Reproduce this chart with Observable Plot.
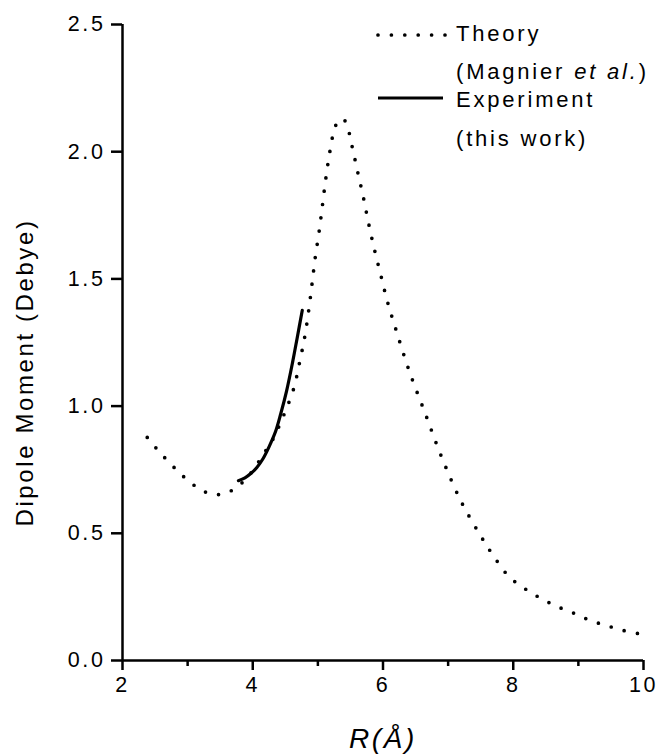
<!DOCTYPE html>
<html><head><meta charset="utf-8">
<script src="https://cdn.jsdelivr.net/npm/d3@7"></script>
<script src="https://cdn.jsdelivr.net/npm/@observablehq/plot@0.6"></script>
<style>
body{margin:0;background:#fff;}
#wrap{position:relative;width:657px;height:755px;}
#wrap svg{position:absolute;left:0;top:0;}
#wrap g[aria-label$="tick"]{stroke-width:2.5px !important;}
#wrap g[aria-label$="tick label"]{font-size:21.5px !important;}
</style></head><body><div id="wrap"></div>
<script>
// Theory (Magnier et al.) — dipole moment vs R
const theoryR = [2.38,2.55,2.75,2.95,3.15,3.35,3.55,3.75,3.95,4.10,4.20,4.30,4.48,4.63,4.72,4.80,4.86,4.91,4.96,5.02,5.07,5.12,5.18,5.25,5.31,5.38,5.44,5.52,5.61,5.70,5.78,5.87,5.97,6.07,6.19,6.40,6.65,6.90,7.20,7.50,7.70,7.93,8.13,8.33,8.53,8.73,8.93,9.13,9.34,9.54,9.74,9.93,10.0];
const theoryD = [0.877,0.825,0.77,0.72,0.68,0.655,0.655,0.68,0.73,0.785,0.825,0.865,0.967,1.07,1.173,1.275,1.378,1.48,1.585,1.688,1.789,1.891,1.994,2.085,2.12,2.13,2.11,2.027,1.922,1.819,1.717,1.614,1.511,1.409,1.308,1.14,0.97,0.80,0.625,0.49,0.41,0.331,0.291,0.258,0.23,0.206,0.186,0.163,0.144,0.129,0.115,0.105,0.10];
// Experiment (this work)
const exptR = [3.78,3.88,3.97,4.06,4.15,4.25,4.35,4.43,4.52,4.61,4.68,4.76];
const exptD = [0.707,0.718,0.735,0.758,0.79,0.84,0.90,0.97,1.06,1.17,1.265,1.376];

const xTicks = [2,4,6,8,10];
const xMinorTicks = [3,5,7,9];
const yTicks = [0,0.5,1.0,1.5,2.0,2.5];
const xTitle = "R(Å)";
const yTitle = "Dipole Moment (Debye)";
const legendItems = [
  {label: "Theory", sub: ["(Magnier ", "et al.", ")"], dash: true},
  {label: "Experiment", sub: ["(this work)"], dash: false}
];

const theory = theoryR.map((r, i) => ({r, d: theoryD[i]}));
const expt = exptR.map((r, i) => ({r, d: exptD[i]}));

const FONT = '"Liberation Sans", Arial, Helvetica, sans-serif';

const chart = Plot.plot({
  width: 657, height: 755,
  marginLeft: 122, marginRight: 14, marginTop: 24, marginBottom: 95,
  x: {domain: [2, 10], label: null},
  y: {domain: [0, 2.5], label: null},
  style: {fontFamily: FONT, fontSize: "21px", letterSpacing: "2.6px", color: "#000", background: "#fff"},
  marks: [
    Plot.axisX(xTicks, {tickSize: 10, tickPadding: 6, strokeWidth: 2.5, fontSize: 21, tickFormat: d => String(d), label: null}),
    Plot.axisX(xMinorTicks, {tickSize: 6, strokeWidth: 2.5, fill: "none", label: null}),
    Plot.axisY(yTicks, {tickSize: 11, tickPadding: 6, strokeWidth: 2.5, fontSize: 21, tickFormat: d3.format(".1f"), label: null}),
    Plot.ruleX([2], {strokeWidth: 2.5}),
    Plot.ruleY([0], {strokeWidth: 2.5}),
    Plot.line(theory, {x: "r", y: "d", curve: "catmull-rom", stroke: "#000", strokeWidth: 3.7, strokeDasharray: "0 13.4", strokeLinecap: "round"}),
    Plot.line(expt, {x: "r", y: "d", curve: "catmull-rom", stroke: "#000", strokeWidth: 3.2}),
    Plot.text([yTitle], {frameAnchor: "left", textAnchor: "middle", lineAnchor: "middle", rotate: -90, dx: -97, dy: 30, fontSize: 24}),
    Plot.text([xTitle], {frameAnchor: "bottom", textAnchor: "middle", lineAnchor: "middle", dy: 79, fontSize: 28, fontStyle: "italic"})
  ]
});
document.getElementById("wrap").appendChild(chart);
// make axis ticks heavy like the reference
d3.select(chart).selectAll('g[aria-label$="tick"]').attr("stroke-width", 2.5)
  .selectAll("path,line").attr("stroke-width", 2.5);

// Legend overlay
const leg = d3.select("#wrap").append("svg")
  .attr("width", 657).attr("height", 755)
  .style("pointer-events", "none")
  .style("font-family", FONT).style("font-size", "22px").style("letter-spacing", "2.8px");
const rows = [{y: 35, base: 41, subBase: 79}, {y: 98, base: 107, subBase: 146}];
legendItems.forEach((it, i) => {
  const r = rows[i];
  const ln = leg.append("line").attr("x1", 378).attr("x2", it.dash ? 447 : 443)
    .attr("y1", r.y).attr("y2", r.y).attr("stroke", "#000");
  if (it.dash) ln.attr("stroke-width", 3.7).attr("stroke-dasharray", "0 13.4").attr("stroke-linecap", "round");
  else ln.attr("stroke-width", 3.2);
  leg.append("text").attr("x", 456).attr("y", r.base).text(it.label);
  const t = leg.append("text").attr("x", 456).attr("y", r.subBase);
  it.sub.forEach((s, j) => {
    const ts = t.append("tspan").text(s);
    if (s === "et al.") ts.attr("font-style", "italic");
  });
});
</script>
</body></html>
